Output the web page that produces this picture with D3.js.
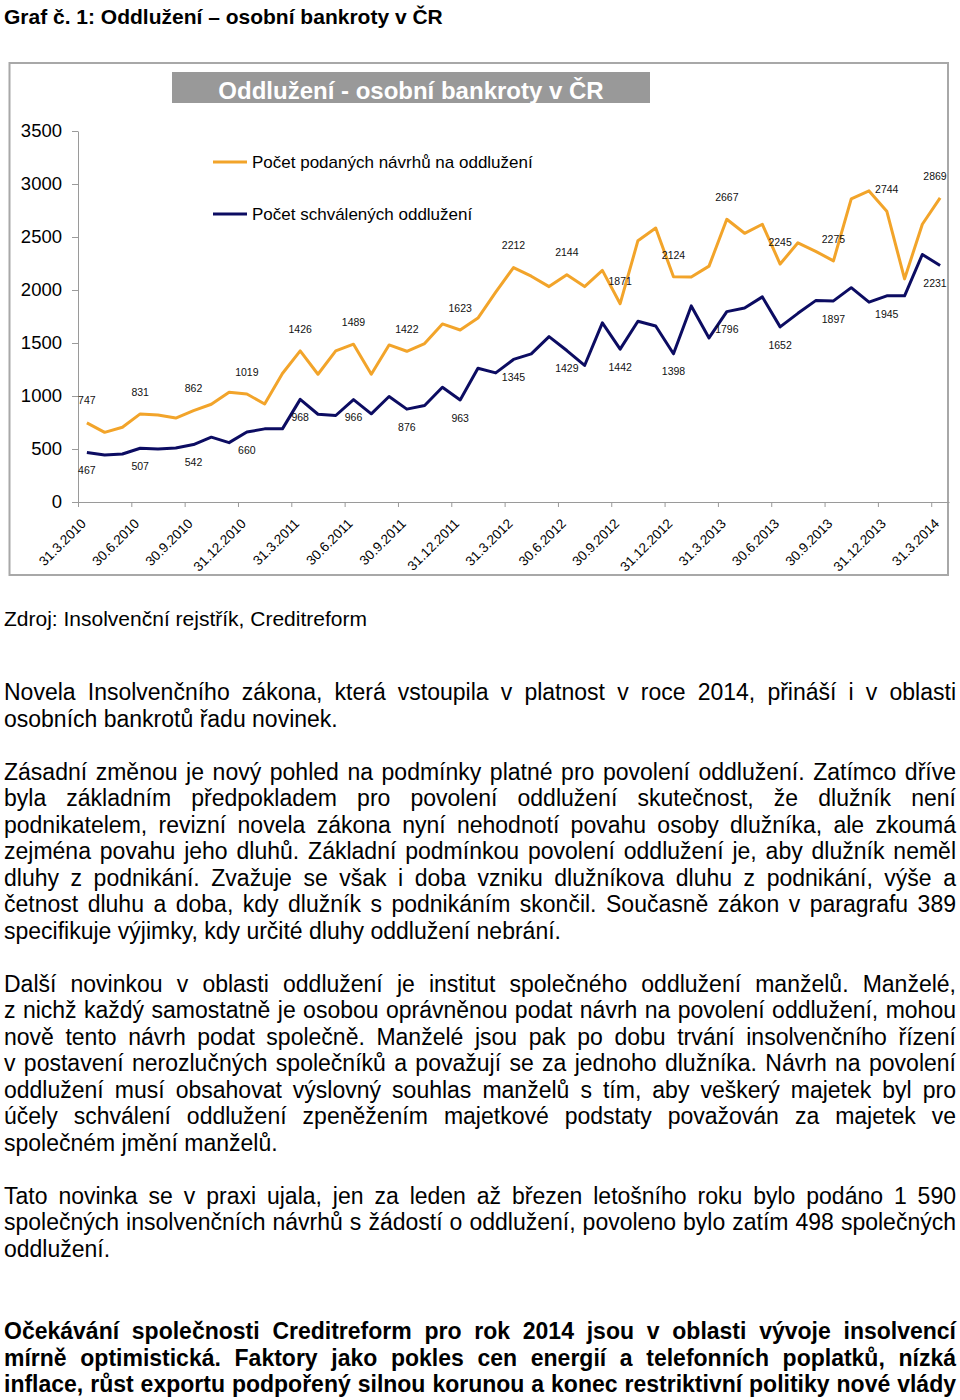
<!DOCTYPE html>
<html lang="cs">
<head>
<meta charset="utf-8">
<script src="https://cdn.jsdelivr.net/npm/d3@7"></script>
<style>
  body { margin: 0; background: #fff; font-family: Arial, "Liberation Sans", sans-serif; color: #000; }
  #page { position: relative; width: 960px; height: 1400px; overflow: hidden; }
  #chart { position: absolute; left: 0; top: 0; }
  #text { position: absolute; left: 4px; width: 952px; top: 679px; font-size: 23px; line-height: 26.5px; }
  #text p { margin: 0 0 26.5px 0; }
  #text p.bold { font-weight: bold; margin-top: 56px; }
  #text span { display: block; text-align: justify; text-align-last: justify; }
  #text span.last { text-align-last: left; }
</style>
</head>
<body>
<div id="page">
  <svg id="chart" width="960" height="640"></svg>
  <div id="text"></div>
</div>
<script>
// Quarterly tick labels (month boundaries)
const tickLabels = ['31.3.2010', '30.6.2010', '30.9.2010', '31.12.2010', '31.3.2011', '30.6.2011',
  '30.9.2011', '31.12.2011', '31.3.2012', '30.6.2012', '30.9.2012', '31.12.2012', '31.3.2013',
  '30.6.2013', '30.9.2013', '31.12.2013', '31.3.2014'];

// Monthly values, April 2010 - April 2014
const navrhy = [747, 657, 705, 831, 820, 792, 862, 922, 1035, 1019, 925, 1212, 1426, 1205, 1425,
  1489, 1205, 1482, 1422, 1495, 1680, 1623, 1735, 1980, 2212, 2130, 2032, 2144, 2032, 2185, 1871,
  2465, 2585, 2124, 2122, 2225, 2667, 2535, 2620, 2245, 2445, 2365, 2275, 2860, 2935, 2744, 2105,
  2620, 2869];
const schvaleno = [467, 443, 453, 507, 500, 510, 542, 612, 560, 660, 690, 690, 968, 828, 816, 966,
  832, 995, 876, 910, 1083, 963, 1262, 1218, 1345, 1398, 1560, 1429, 1288, 1690, 1442, 1705, 1660,
  1398, 1850, 1548, 1796, 1830, 1935, 1652, 1780, 1900, 1897, 2022, 1885, 1945, 1945, 2335, 2231];

const yTicks = [0, 500, 1000, 1500, 2000, 2500, 3000, 3500];
const seriesNames = ['Počet podaných návrhů na oddlužení', 'Počet schválených oddlužení'];

const ORANGE = '#f2a42a';
const NAVY = '#0c0c62';
const AXIS = '#9a9a9a';

const svg = d3.select('#chart');

// page heading
svg.append('text')
  .attr('x', 4).attr('y', 24)
  .attr('font-size', 21).attr('font-weight', 'bold')
  .text('Graf č. 1: Oddlužení – osobní bankroty v ČR');

// chart frame
svg.append('rect')
  .attr('x', 9.5).attr('y', 63).attr('width', 938.5).attr('height', 512)
  .attr('fill', 'none').attr('stroke', '#a8a8a8').attr('stroke-width', 2);

// title box
svg.append('rect')
  .attr('x', 172).attr('y', 72).attr('width', 478).attr('height', 31)
  .attr('fill', '#999999');
svg.append('text')
  .attr('x', 411).attr('y', 99)
  .attr('text-anchor', 'middle')
  .attr('font-size', 24).attr('font-weight', 'bold').attr('fill', '#fff')
  .text('Oddlužení - osobní bankroty v ČR');

const x = d3.scaleLinear().domain([0, navrhy.length]).range([78, 949]);
const y = d3.scaleLinear().domain([0, 3500]).range([502, 131]);

// axes
const gx = svg.append('g')
  .attr('transform', 'translate(0,' + y(0) + ')')
  .call(d3.axisBottom(x)
    .tickValues(d3.range(0, navrhy.length, 3))
    .tickFormat(function(d, i) { return tickLabels[i]; })
    .tickSize(5).tickSizeOuter(0));
gx.select('.domain').attr('stroke', AXIS);
gx.selectAll('.tick line').attr('stroke', AXIS);
gx.selectAll('.tick text')
  .attr('font-family', 'Arial, "Liberation Sans", sans-serif')
  .attr('font-size', 13.5).attr('fill', '#000')
  .attr('text-anchor', 'end')
  .attr('x', 0).attr('y', 0).attr('dy', '0.35em')
  .attr('transform', 'translate(5,19) rotate(-45)');

const gy = svg.append('g')
  .attr('transform', 'translate(' + x(0) + ',0)')
  .call(d3.axisLeft(y).tickValues(yTicks).tickFormat(d3.format('d'))
    .tickSize(6).tickPadding(10).tickSizeOuter(0));
gy.select('.domain').attr('stroke', AXIS);
gy.selectAll('.tick line').attr('stroke', AXIS);
gy.selectAll('.tick text')
  .attr('font-family', 'Arial, "Liberation Sans", sans-serif')
  .attr('font-size', 18.5).attr('fill', '#000');

// legend
const legend = svg.append('g');
[[ORANGE, 162, 167.5], [NAVY, 214, 220]].forEach(function(s, i) {
  legend.append('line')
    .attr('x1', 213).attr('x2', 247).attr('y1', s[1]).attr('y2', s[1])
    .attr('stroke', s[0]).attr('stroke-width', 3);
  legend.append('text')
    .attr('x', 252).attr('y', s[2])
    .attr('font-size', 17)
    .text(seriesNames[i]);
});

// lines
const line = d3.line()
  .x(function(d, i) { return x(i + 0.5); })
  .y(function(d) { return y(d); });

svg.append('path').datum(schvaleno)
  .attr('d', line).attr('fill', 'none')
  .attr('stroke', NAVY).attr('stroke-width', 3).attr('stroke-linejoin', 'round');
svg.append('path').datum(navrhy)
  .attr('d', line).attr('fill', 'none')
  .attr('stroke', ORANGE).attr('stroke-width', 3).attr('stroke-linejoin', 'round');

// data labels at every third month
function labels(data, offset) {
  svg.append('g').selectAll('text')
    .data(data.map(function(v, i) { return { v: v, i: i }; }).filter(function(d) { return d.i % 3 === 0; }))
    .join('text')
    .attr('x', function(d) { return Math.min(x(d.i + 0.5), 935); })
    .attr('y', function(d) { return y(d.v) + offset; })
    .attr('dy', '0.35em')
    .attr('text-anchor', 'middle')
    .attr('font-size', 10.5).attr('fill', '#111')
    .text(function(d) { return d.v; });
}
labels(navrhy, -22);
labels(schvaleno, 18);

// source
svg.append('text')
  .attr('x', 4).attr('y', 626)
  .attr('font-size', 21)
  .text('Zdroj: Insolvenční rejstřík, Creditreform');

// body text
const paragraphs = [
  { bold: false, lines: [
    'Novela Insolvenčního zákona, která vstoupila v platnost v roce 2014, přináší i v oblasti',
    'osobních bankrotů řadu novinek.'] },
  { bold: false, lines: [
    'Zásadní změnou je nový pohled na podmínky platné pro povolení oddlužení. Zatímco dříve',
    'byla základním předpokladem pro povolení oddlužení skutečnost, že dlužník není',
    'podnikatelem, revizní novela zákona nyní nehodnotí povahu osoby dlužníka, ale zkoumá',
    'zejména povahu jeho dluhů. Základní podmínkou povolení oddlužení je, aby dlužník neměl',
    'dluhy z podnikání. Zvažuje se však i doba vzniku dlužníkova dluhu z podnikání, výše a',
    'četnost dluhu a doba, kdy dlužník s podnikáním skončil. Současně zákon v paragrafu 389',
    'specifikuje výjimky, kdy určité dluhy oddlužení nebrání.'] },
  { bold: false, lines: [
    'Další novinkou v oblasti oddlužení je institut společného oddlužení manželů. Manželé,',
    'z nichž každý samostatně je osobou oprávněnou podat návrh na povolení oddlužení, mohou',
    'nově tento návrh podat společně. Manželé jsou pak po dobu trvání insolvenčního řízení',
    'v postavení nerozlučných společníků a považují se za jednoho dlužníka. Návrh na povolení',
    'oddlužení musí obsahovat výslovný souhlas manželů s tím, aby veškerý majetek byl pro',
    'účely schválení oddlužení zpeněžením majetkové podstaty považován za majetek ve',
    'společném jmění manželů.'] },
  { bold: false, lines: [
    'Tato novinka se v praxi ujala, jen za leden až březen letošního roku bylo podáno 1 590',
    'společných insolvenčních návrhů s žádostí o oddlužení, povoleno bylo zatím 498 společných',
    'oddlužení.'] },
  { bold: true, lines: [
    'Očekávání společnosti Creditreform pro rok 2014 jsou v oblasti vývoje insolvencí',
    'mírně optimistická. Faktory jako pokles cen energií a telefonních poplatků, nízká',
    'inflace, růst exportu podpořený silnou korunou a konec restriktivní politiky nové vlády'] }
];

const ps = d3.select('#text').selectAll('p')
  .data(paragraphs)
  .join('p')
  .classed('bold', function(d) { return d.bold; });
ps.selectAll('span')
  .data(function(d) {
    return d.lines.map(function(t, i) { return { t: t, last: !d.bold && i === d.lines.length - 1 }; });
  })
  .join('span')
  .classed('last', function(d) { return d.last; })
  .text(function(d) { return d.t; });
</script>
</body>
</html>
